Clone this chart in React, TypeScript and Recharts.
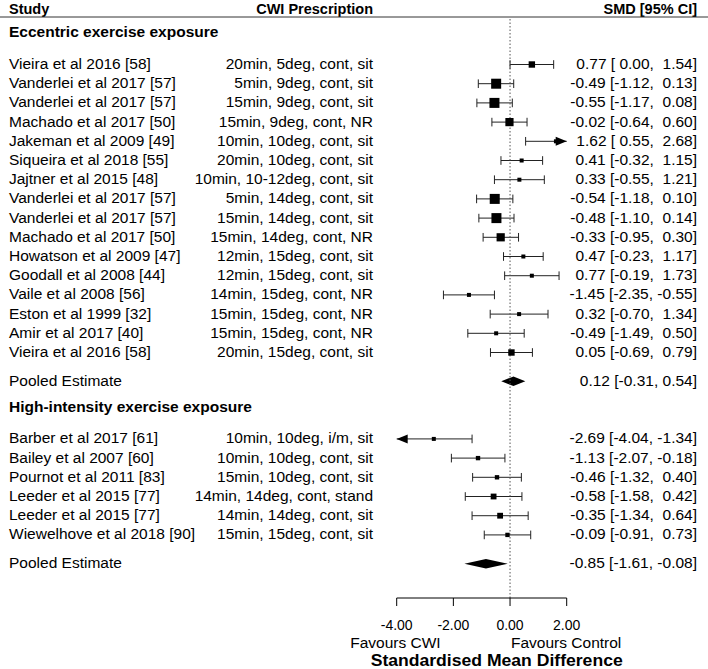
import React from 'react';
import { ScatterChart, Scatter, XAxis, YAxis, ReferenceLine, ReferenceArea } from 'recharts';

// Eccentric exercise exposure
const eccentricStudies = [
  'Vieira et al 2016 [58]',
  'Vanderlei et al 2017 [57]',
  'Vanderlei et al 2017 [57]',
  'Machado et al 2017 [50]',
  'Jakeman et al 2009 [49]',
  'Siqueira et al 2018 [55]',
  'Jajtner et al 2015 [48]',
  'Vanderlei et al 2017 [57]',
  'Vanderlei et al 2017 [57]',
  'Machado et al 2017 [50]',
  'Howatson et al 2009 [47]',
  'Goodall et al 2008 [44]',
  'Vaile et al 2008 [56]',
  'Eston et al 1999 [32]',
  'Amir et al 2017 [40]',
  'Vieira et al 2016 [58]',
];
const eccentricPrescriptions = [
  '20min, 5deg, cont, sit',
  '5min, 9deg, cont, sit',
  '15min, 9deg, cont, sit',
  '15min, 9deg, cont, NR',
  '10min, 10deg, cont, sit',
  '20min, 10deg, cont, sit',
  '10min, 10-12deg, cont, sit',
  '5min, 14deg, cont, sit',
  '15min, 14deg, cont, sit',
  '15min, 14deg, cont, NR',
  '12min, 15deg, cont, sit',
  '12min, 15deg, cont, sit',
  '14min, 15deg, cont, NR',
  '15min, 15deg, cont, NR',
  '15min, 15deg, cont, NR',
  '20min, 15deg, cont, sit',
];
const eccentricSmd = [0.77, -0.49, -0.55, -0.02, 1.62, 0.41, 0.33, -0.54, -0.48, -0.33, 0.47, 0.77, -1.45, 0.32, -0.49, 0.05];
const eccentricLower = [0.0, -1.12, -1.17, -0.64, 0.55, -0.32, -0.55, -1.18, -1.1, -0.95, -0.23, -0.19, -2.35, -0.7, -1.49, -0.69];
const eccentricUpper = [1.54, 0.13, 0.08, 0.6, 2.68, 1.15, 1.21, 0.1, 0.14, 0.3, 1.17, 1.73, -0.55, 1.34, 0.5, 0.79];
const eccentricWeights = [6.5, 9.5, 9.5, 8, 4.5, 4.5, 4.5, 9.5, 9.5, 8, 4.5, 4.5, 4.5, 4.5, 4.5, 6.5];
const eccentricPooled = [0.12, -0.31, 0.54];

// High-intensity exercise exposure
const highStudies = [
  'Barber et al 2017 [61]',
  'Bailey et al 2007 [60]',
  'Pournot et al 2011 [83]',
  'Leeder et al 2015 [77]',
  'Leeder et al 2015 [77]',
  'Wiewelhove et al 2018 [90]',
];
const highPrescriptions = [
  '10min, 10deg, i/m, sit',
  '10min, 10deg, cont, sit',
  '15min, 10deg, cont, sit',
  '14min, 14deg, cont, stand',
  '14min, 14deg, cont, sit',
  '15min, 15deg, cont, sit',
];
const highSmd = [-2.69, -1.13, -0.46, -0.58, -0.35, -0.09];
const highLower = [-4.04, -2.07, -1.32, -1.58, -1.34, -0.91];
const highUpper = [-1.34, -0.18, 0.4, 0.42, 0.64, 0.73];
const highWeights = [4.5, 4.8, 4.8, 6, 6, 4.8];
const highPooled = [-0.85, -1.61, -0.08];

const xTicks = [-4, -2, 0, 2];
const X_MIN = -4;
const X_MAX = 2;

const W = 708;
const H = 669;
const FONT = '"Liberation Sans", Arial, Helvetica, sans-serif';

// row layout, top to bottom
const ECC_HEAD = -1.65;
const eccRows = eccentricStudies.map((_, i) => i);
const ECC_POOLED = eccentricStudies.length + 0.5;
const HIGH_HEAD = ECC_POOLED + 1.35;
const highRows = highStudies.map((_, i) => HIGH_HEAD + 1.65 + i);
const HIGH_POOLED = highRows[highRows.length - 1] + 1.5;

const pad = (v: number) => (v < 0 ? v.toFixed(2) : ' ' + v.toFixed(2));
const ciText = (e: number, lo: number, hi: number) => `${e.toFixed(2)} [${pad(lo)}, ${pad(hi)}]`;
const pooledText = (e: number, lo: number, hi: number) => `${e.toFixed(2)} [${lo.toFixed(2)}, ${hi.toFixed(2)}]`;

const studies = [
  ...eccentricStudies.map((name, i) => ({
    row: eccRows[i], name, rx: eccentricPrescriptions[i], smd: eccentricSmd[i],
    lower: eccentricLower[i], upper: eccentricUpper[i], weight: eccentricWeights[i],
  })),
  ...highStudies.map((name, i) => ({
    row: highRows[i], name, rx: highPrescriptions[i], smd: highSmd[i],
    lower: highLower[i], upper: highUpper[i], weight: highWeights[i],
  })),
];

const pooled = [
  { row: ECC_POOLED, est: eccentricPooled[0], lower: eccentricPooled[1], upper: eccentricPooled[2] },
  { row: HIGH_POOLED, est: highPooled[0], lower: highPooled[1], upper: highPooled[2] },
];

type LabelRow = { row: number; kind: 'head' | 'study' | 'pooled'; left: string; mid?: string; right?: string };
const labelRows: LabelRow[] = [
  { row: ECC_HEAD, kind: 'head', left: 'Eccentric exercise exposure' },
  ...studies.slice(0, eccentricStudies.length).map((s) => ({
    row: s.row, kind: 'study' as const, left: s.name, mid: s.rx, right: ciText(s.smd, s.lower, s.upper),
  })),
  { row: ECC_POOLED, kind: 'pooled', left: 'Pooled Estimate', right: pooledText(pooled[0].est, pooled[0].lower, pooled[0].upper) },
  { row: HIGH_HEAD, kind: 'head', left: 'High-intensity exercise exposure' },
  ...studies.slice(eccentricStudies.length).map((s) => ({
    row: s.row, kind: 'study' as const, left: s.name, mid: s.rx, right: ciText(s.smd, s.lower, s.upper),
  })),
  { row: HIGH_POOLED, kind: 'pooled', left: 'Pooled Estimate', right: pooledText(pooled[1].est, pooled[1].lower, pooled[1].upper) },
];

const points = studies.map((s) => ({ x: s.smd, row: s.row, weight: s.weight }));
const squareSize = (w: number) => 4 + (w - 4.5) * 1.2;

function RowLabel({ y, payload }: any) {
  const item = labelRows.find((r) => r.row === payload.value);
  if (!item) return null;
  const bold = item.kind === 'head';
  return (
    <g fontFamily={FONT} fontSize={15.5} fill="#000">
      <text x={9} y={y} dy={4.5} fontWeight={bold ? 'bold' : 'normal'} fill="#000">{item.left}</text>
      {item.mid && <text x={373} y={y} dy={4.5} textAnchor="end" fill="#000">{item.mid}</text>}
      {item.right && (
        <text x={697} y={y} dy={4.5} textAnchor="end" fill="#000" xmlSpace="preserve" style={{ whiteSpace: 'pre' }}>
          {item.right}
        </text>
      )}
    </g>
  );
}

function Header({ viewBox }: any) {
  const top = viewBox.y;
  return (
    <g fontFamily={FONT} fontSize={14.5} fontWeight="bold" fill="#000">
      <text x={9} y={top - 3.5}>Study</text>
      <text x={373} y={top - 3.5} textAnchor="end">CWI Prescription</text>
      <text x={697} y={top - 3.5} textAnchor="end">SMD [95% CI]</text>
      <line x1={0} x2={W} y1={top} y2={top} stroke="#333" strokeWidth={1} />
    </g>
  );
}

function AxisTitle({ viewBox }: any) {
  const { x, y, width } = viewBox;
  return (
    <g fontFamily={FONT} fill="#000">
      <text x={x + 44} y={y + 49.5} fontSize={15.5} textAnchor="end">Favours CWI</text>
      <text x={x + (width * 2) / 3 + 1} y={y + 49.5} fontSize={15.5}>Favours Control</text>
      <text
        x={x + 100}
        y={y + 67.5}
        fontSize={16}
        fontWeight="bold"
        textAnchor="middle"
        textLength={252}
        lengthAdjust="spacingAndGlyphs"
      >
        Standardised Mean Difference
      </text>
    </g>
  );
}

function XTick({ x, y, payload }: any) {
  return (
    <text x={x} y={y} dy={24} textAnchor="middle" fontFamily={FONT} fontSize={14} fill="#000">
      {Number(payload.value).toFixed(2)}
    </text>
  );
}

function Whisker(props: any) {
  const { x, y, width, height, clipLow, clipHigh } = props;
  const mid = y + height / 2;
  const right = x + width;
  return (
    <g>
      <line x1={x} x2={right} y1={mid} y2={mid} stroke="#222" strokeWidth={1} />
      {clipLow ? (
        <polygon points={`${x},${mid} ${x + 11},${mid - 4.5} ${x + 11},${mid + 4.5}`} fill="#000" />
      ) : (
        <line x1={x} x2={x} y1={y} y2={y + height} stroke="#222" strokeWidth={1} />
      )}
      {clipHigh ? (
        <polygon points={`${right},${mid} ${right - 11},${mid - 4.5} ${right - 11},${mid + 4.5}`} fill="#000" />
      ) : (
        <line x1={right} x2={right} y1={y} y2={y + height} stroke="#222" strokeWidth={1} />
      )}
    </g>
  );
}

function Diamond(props: any) {
  const { x, y, width, height, est, lower, upper } = props;
  const mid = y + height / 2;
  const ex = x + (width * (est - lower)) / (upper - lower);
  return <polygon points={`${x},${mid} ${ex},${y} ${x + width},${mid} ${ex},${y + height}`} fill="#000" />;
}

function Square({ cx, cy, payload }: any) {
  const s = squareSize(payload.weight);
  return <rect x={cx - s / 2} y={cy - s / 2} width={s} height={s} fill="#000" />;
}

export default function App() {
  return (
    <div style={{ position: 'absolute', left: 0, top: 0, width: W, height: H, background: '#fff' }}>
      <ScatterChart width={W} height={H} margin={{ top: 17, right: 141.3, bottom: 0, left: 0 }}>
        <XAxis
          type="number"
          dataKey="x"
          domain={[X_MIN, X_MAX]}
          ticks={xTicks}
          interval={0}
          height={71}
          tickSize={8}
          tickMargin={0}
          stroke="#000"
          tick={(p: any) => <XTick {...p} />}
          label={(p: any) => <AxisTitle {...p} />}
        />
        <YAxis
          type="number"
          dataKey="row"
          domain={[-2.474, 27.786]}
          reversed
          width={396.7}
          ticks={labelRows.map((r) => r.row)}
          interval={0}
          axisLine={false}
          tickLine={false}
          tick={(p: any) => <RowLabel {...p} />}
          label={(p: any) => <Header {...p} />}
        />
        <ReferenceLine x={0} stroke="#555" strokeDasharray="1.5 2" />
        {studies.map((s, i) => (
          <ReferenceArea
            key={`ci-${i}`}
            x1={Math.max(s.lower, X_MIN)}
            x2={Math.min(s.upper, X_MAX)}
            y1={s.row - 0.225}
            y2={s.row + 0.225}
            ifOverflow="visible"
            shape={(p: any) => <Whisker {...p} clipLow={s.lower < X_MIN} clipHigh={s.upper > X_MAX} />}
          />
        ))}
        {pooled.map((p, i) => (
          <ReferenceArea
            key={`pool-${i}`}
            x1={p.lower}
            x2={p.upper}
            y1={p.row - 0.25}
            y2={p.row + 0.25}
            ifOverflow="visible"
            shape={(sp: any) => <Diamond {...sp} est={p.est} lower={p.lower} upper={p.upper} />}
          />
        ))}
        <Scatter data={points} shape={(p: any) => <Square {...p} />} isAnimationActive={false} />
      </ScatterChart>
    </div>
  );
}
